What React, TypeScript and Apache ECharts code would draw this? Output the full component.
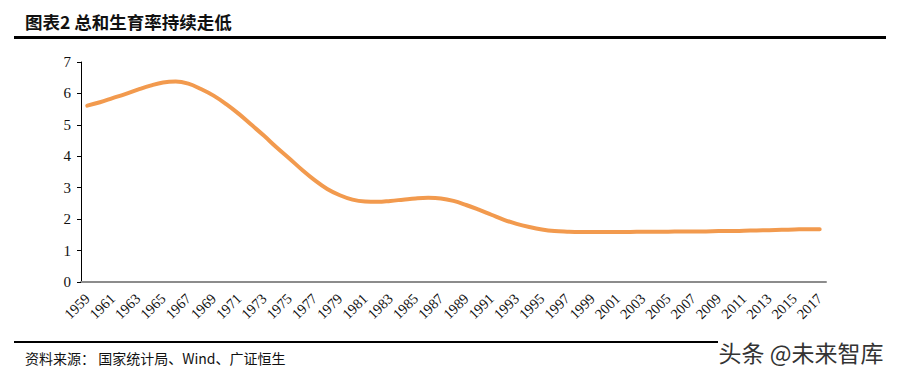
import React, { useEffect, useRef } from "react";
import * as echarts from "echarts";

const years: string[] = [];
for (let y = 1959; y <= 2017; y++) years.push(String(y));

const tfr: number[] = [
  5.61, 5.72, 5.85, 5.98, 6.12, 6.25, 6.35, 6.38, 6.31, 6.14,
  5.93, 5.66, 5.35, 5.00, 4.65, 4.28, 3.93, 3.57, 3.24, 2.96,
  2.76, 2.62, 2.56, 2.55, 2.58, 2.62, 2.66, 2.68, 2.66, 2.58,
  2.45, 2.30, 2.14, 1.98, 1.85, 1.75, 1.67, 1.62, 1.60, 1.59,
  1.59, 1.59, 1.59, 1.59, 1.60, 1.60, 1.60, 1.61, 1.61, 1.61,
  1.62, 1.62, 1.63, 1.64, 1.65, 1.66, 1.67, 1.68, 1.68,
];

const yTicks = [0, 1, 2, 3, 4, 5, 6, 7];

const titleText = "图表2 总和生育率持续走低";
const sourceText = "资料来源： 国家统计局、Wind、广证恒生";
const watermarkText = "头条 @未来智库";

export default function App() {
  const ref = useRef<HTMLDivElement>(null);
  useEffect(() => {
    if (!ref.current) return;
    const chart = echarts.init(ref.current, undefined, { renderer: "svg" });
    chart.setOption({
      animation: false,
      backgroundColor: "#ffffff",
      grid: { left: 81, right: 72, top: 62, bottom: 92, containLabel: false },
      xAxis: {
        type: "category",
        data: years,
        boundaryGap: true,
        axisLine: { show: true, lineStyle: { color: "#8c8c8c", width: 2 } },
        axisTick: { show: false },
        axisLabel: {
          interval: 1,
          rotate: 45,
          margin: 14,
          fontFamily: "Liberation Serif",
          fontSize: 14.5,
          color: "#111",
        },
        splitLine: { show: false },
      },
      yAxis: {
        type: "value",
        min: yTicks[0],
        max: yTicks[yTicks.length - 1],
        interval: 1,
        axisLine: { show: true, lineStyle: { color: "#000", width: 1 } },
        axisTick: { show: true, inside: false, length: 4, lineStyle: { color: "#000" } },
        axisLabel: {
          margin: 10,
          fontFamily: "Liberation Serif",
          fontSize: 15,
          color: "#111",
        },
        splitLine: { show: false },
      },
      series: [
        {
          type: "line",
          data: tfr,
          smooth: 0.4,
          showSymbol: false,
          symbol: "none",
          lineStyle: { color: "#F29A4E", width: 4, cap: "round" },
        },
      ],
      graphic: [
        {
          type: "text",
          left: 25,
          top: 13,
          style: {
            text: titleText,
            font: "bold 17.5px 'Noto Sans CJK SC'",
            fill: "#111",
          },
        },
        {
          type: "rect",
          shape: { x: 14, y: 36, width: 872, height: 3 },
          style: { fill: "#000" },
        },
        {
          type: "rect",
          shape: { x: 14, y: 341, width: 704, height: 2 },
          style: { fill: "#000" },
        },
        {
          type: "text",
          left: 25,
          top: 351,
          style: {
            text: sourceText,
            font: "14px 'Noto Sans CJK SC'",
            fill: "#111",
          },
        },
        {
          type: "text",
          left: 718,
          top: 340,
          style: {
            text: watermarkText,
            font: "23px 'Noto Sans CJK SC'",
            fill: "#333",
            stroke: "#fff",
            lineWidth: 1,
          },
        },
      ],
    });
    return () => chart.dispose();
  }, []);
  return <div ref={ref} style={{ width: 898, height: 374, position: "absolute", left: 0, top: 0 }} />;
}
